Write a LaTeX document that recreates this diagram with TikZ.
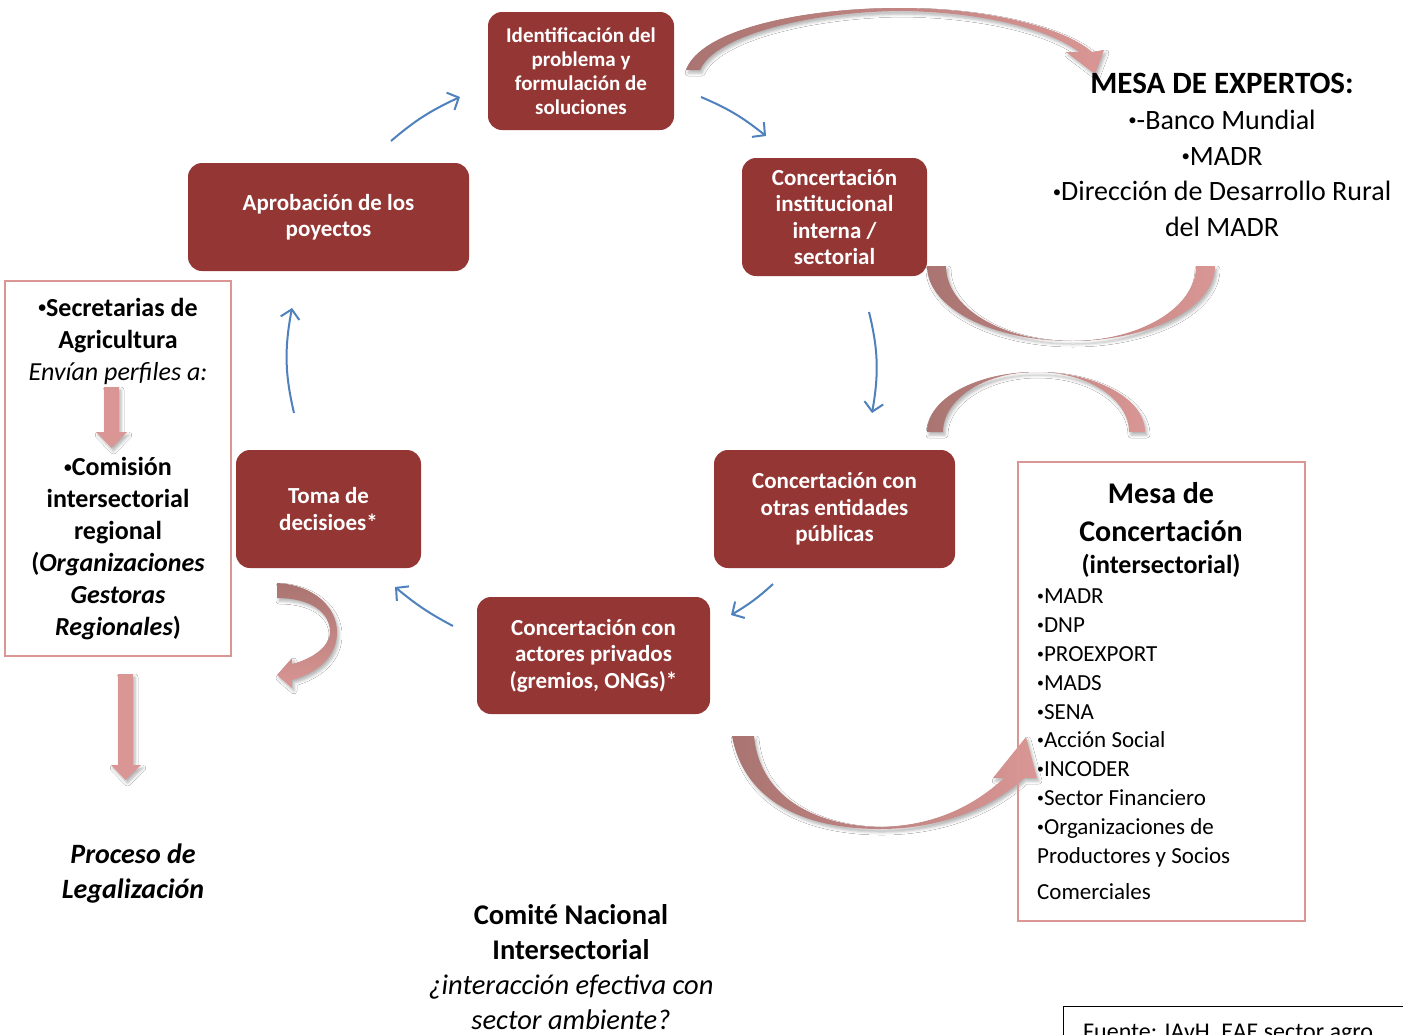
\documentclass[tikz,border=0pt]{standalone}
\usepackage{fontspec}
\usepackage{graphicx}
\setmainfont{Carlito}
\usetikzlibrary{arrows.meta,shadows.blur,bending}
\definecolor{boxred}{HTML}{943634}
\definecolor{pinkb}{HTML}{D99694}
\definecolor{pinkd}{HTML}{A97471}
\definecolor{blueA}{HTML}{4F81BD}
\newcommand{\sbul}{\raisebox{0.28ex}{\scalebox{0.6}{•}}}
\tikzset{
 procbox/.style={fill=boxred, rounded corners=14pt, text=white, font=\fontsize{23}{26.5}\selectfont\bfseries, align=center, inner sep=0pt},
 flowarrow/.style={draw=blueA, line width=2pt, -{Straight Barb[length=9pt,width=19pt]}},
 framebox/.style={draw=pinkb, line width=1.6pt, inner sep=0pt},
 softshadow/.style={blur shadow={shadow xshift=2pt,shadow yshift=-3pt,shadow blur radius=3pt,shadow opacity=30}},
 bandshade/.style={left color=pinkd, right color=pinkb, softshadow},
 blockarrow/.style={fill=pinkb, softshadow},
 plain/.style={align=center, inner sep=0pt},
}
\begin{document}
\begin{tikzpicture}[x=1pt,y=1pt]
\useasboundingbox (0,0) rectangle (1403,-1034);
\clip (0,0) rectangle (1403,-1034);
\fill[white] (0,0) rectangle (1403,-1034);

% curved pink arrows
\shade[bandshade] (686,-70) .. controls (700,-30) and (800,-8) .. (900,-8) .. controls (990,-8) and (1065,-28) .. (1092,-52) -- (1104,-50) -- (1095,-74) -- (1066,-52) -- (1079,-52) .. controls (1050,-30) and (985,-12) .. (900,-11) .. controls (810,-12) and (715,-35) .. (700,-70) -- cycle;
\shade[bandshade] (927,-266) arc[start angle=180,end angle=360,x radius=144,y radius=75] -- (1196,-266) arc[start angle=360,end angle=180,x radius=125,y radius=75] -- cycle;
\shade[bandshade] (927,-432) arc[start angle=180,end angle=0,x radius=109,y radius=60] -- (1129,-432) arc[start angle=0,end angle=180,x radius=93,y radius=60] -- cycle;
\shade[bandshade] (732,-736) .. controls (745,-805) and (810,-829) .. (880,-829) .. controls (945,-829) and (995,-805) .. (1024,-778) -- (1037,-778) -- (1026,-737) -- (993,-778) -- (1004,-778) .. controls (975,-805) and (935,-826) .. (880,-827) .. controls (820,-826) and (760,-800) .. (754,-736) -- cycle;
\shade[top color=pinkd, bottom color=pinkb, softshadow] (277,-583) .. controls (315,-585) and (337,-608) .. (337,-632) .. controls (337,-655) and (320,-672) .. (292,-680) -- (292,-688) -- (277,-675) -- (292,-658) -- (292,-664) .. controls (315,-658) and (330,-645) .. (330,-632) .. controls (330,-612) and (310,-598) .. (277,-598) -- cycle;

% process boxes
\node[procbox, minimum width=186pt, minimum height=118pt, font=\fontsize{21}{24}\selectfont\bfseries] (ident) at (581,-71) {Identificación del\\problema y\\formulación de\\soluciones};
\node[procbox, minimum width=281pt, minimum height=108pt] (aprob) at (328.5,-217) {Aprobación de los\\poyectos};
\node[procbox, minimum width=185pt, minimum height=118pt] (inst) at (834.5,-217) {Concertación\\institucional\\interna /\\sectorial};
\node[procbox, minimum width=241pt, minimum height=118pt] (otras) at (834.5,-509) {Concertación con\\otras entidades\\públicas};
\node[procbox, minimum width=233pt, minimum height=117pt] (priv) at (593.5,-655.5) {Concertación con\\actores privados\\(gremios, ONGs)*};
\node[procbox, minimum width=185pt, minimum height=118pt] (toma) at (328.5,-509) {Toma de\\decisioes*};

% blue cycle arrows
\coordinate (b1s) at (391,-141); \coordinate (b1e) at (460,-97);
\coordinate (b2s) at (701,-97);  \coordinate (b2e) at (766,-136);
\coordinate (b3s) at (869,-312); \coordinate (b3e) at (872,-413);
\coordinate (b4s) at (773,-584); \coordinate (b4e) at (731,-615);
\coordinate (b5s) at (453,-626); \coordinate (b5e) at (395,-587);
\coordinate (b6s) at (294,-413); \coordinate (b6e) at (292,-308);
\draw[flowarrow] (b1s) to[bend left=8] (b1e);
\draw[flowarrow] (b2s) to[bend left=8] (b2e);
\draw[flowarrow] (b3s) to[bend left=12] (b3e);
\draw[flowarrow] (b4s) to[bend left=6] (b4e);
\draw[flowarrow] (b5s) to[bend left=6] (b5e);
\draw[flowarrow] (b6s) to[bend left=12] (b6e);

% left box
\node[framebox, minimum width=226pt, minimum height=375pt] (leftbox) at (118,-468.5) {};
\node[plain, font=\fontsize{26}{32}\selectfont\bfseries] (secre) at (118,-341) {\sbul Secretarias de\\Agricultura\\{\mdseries\itshape Envían perfiles a:}};
\fill[blockarrow] (104,-387) -- (119,-387) -- (119,-432) -- (127,-432) -- (111.5,-448) -- (96,-432) -- (104,-432) -- cycle;
\node[plain, font=\fontsize{26}{32}\selectfont\bfseries] (comision) at (118,-549) {\sbul Comisión\\intersectorial\\regional\\(\textit{Organizaciones}\\\textit{Gestoras}\\\textit{Regionales})};
\fill[blockarrow] (118,-674) -- (133,-674) -- (133,-765) -- (141,-765) -- (125.5,-780) -- (111,-765) -- (118,-765) -- cycle;
\node[plain, font=\fontsize{28}{35}\selectfont\bfseries\itshape] (proceso) at (133,-874) {Proceso de\\Legalización};

% comite
\node[plain, font=\fontsize{28.5}{35}\selectfont] (comite) at (571,-967) {{\bfseries Comité Nacional}\\{\bfseries Intersectorial}\\{\itshape ¿interacción efectiva con}\\{\itshape sector ambiente?}};

% mesa de expertos
\node[plain, font=\fontsize{28}{35.7}\selectfont] (expertos) at (1222,-155) {{\fontsize{31}{36}\selectfont\bfseries MESA DE EXPERTOS:}\\\sbul-Banco Mundial\\\sbul MADR\\\sbul Dirección de Desarrollo Rural\\del MADR};

% mesa de concertacion
\node[framebox, minimum width=287pt, minimum height=459pt] (mesabox) at (1161.5,-691.5) {};
\node[plain, font=\fontsize{30}{38}\selectfont\bfseries] (mesatitle) at (1161,-512) {Mesa de\\Concertación};
\node[plain, font=\fontsize{26}{30}\selectfont\bfseries] (inters) at (1161,-566) {(intersectorial)};
\node[align=left, anchor=north west, inner sep=0pt, font=\fontsize{23}{28.8}\selectfont] (mesalist) at (1037,-589) {\sbul MADR\\\sbul DNP\\\sbul PROEXPORT\\\sbul MADS\\\sbul SENA\\\sbul Acción Social\\\sbul INCODER\\\sbul Sector Financiero\\\sbul Organizaciones de\\Productores y Socios\\[8pt]Comerciales};

% fuente
\node[draw=black, line width=1.2pt, anchor=north west, minimum width=360pt, minimum height=50pt, inner sep=0pt] (fuentebox) at (1063,-1006) {};
\node[anchor=base west, inner sep=0pt, font=\fontsize{24}{28}\selectfont] (fuente) at (1083,-1039) {Fuente: IAvH. EAE sector agro};
\end{tikzpicture}
\end{document}
